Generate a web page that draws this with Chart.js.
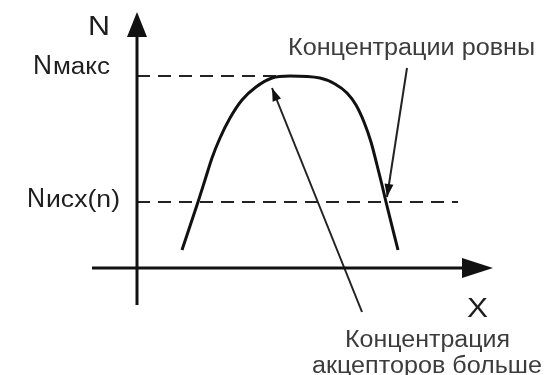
<!DOCTYPE html>
<html lang="ru">
<head>
<meta charset="utf-8">
<script src="https://cdn.jsdelivr.net/npm/chart.js@4.4.1/dist/chart.umd.min.js"></script>
<style>
  html, body { margin: 0; padding: 0; background: #fff; }
  #wrap { width: 558px; height: 375px; }
</style>
</head>
<body>
<div id="wrap"><canvas id="profil" width="558" height="375"></canvas></div>
<script>
// Профиль концентрации акцепторов N(X)
const curveX = [45, 61, 68, 75, 83, 93, 105, 119, 135, 153, 183, 198, 210, 219, 227, 234, 240, 245, 249, 261];
const curveN = [18, 66, 88, 110, 130, 150, 168, 181, 190, 192, 190, 184, 175, 163, 146, 126, 103, 83, 66, 18];

// уровни на оси N
const levelNames = ['макс', 'исх(n)'];
const levelValues = [192, 66];
const levelEnds = [150, 321];

// выноски: [откуда, куда]
const calloutText = ['Концентрации ровны', 'Концентрация\nакцепторов больше'];
const calloutFrom = [[270, 200], [225, -44]];
const calloutTo = [[250, 71], [135, 180]];

const pts = (xs, ys) => xs.map((x, i) => ({ x: x, y: ys[i] }));

const lineDs = (data, extra) => Object.assign({
  data: data,
  showLine: true,
  borderColor: '#111',
  borderWidth: 2,
  pointRadius: 0,
  fill: false
}, extra);

const datasets = [
  lineDs(pts(curveX, curveN), { borderWidth: 3, tension: 0.4, cubicInterpolationMode: 'monotone' }),
  // оси
  lineDs([{ x: 0, y: -37 }, { x: 0, y: 235 }], { borderWidth: 3 }),
  lineDs([{ x: -45, y: 0 }, { x: 330, y: 0 }], { borderWidth: 3 })
];
levelValues.forEach((v, i) => {
  datasets.push(lineDs([{ x: 0, y: v }, { x: levelEnds[i], y: v }], { borderDash: [13, 8], borderColor: '#222' }));
});
calloutFrom.forEach((p, i) => {
  datasets.push(lineDs([{ x: p[0], y: p[1] }, { x: calloutTo[i][0], y: calloutTo[i][1] }], { borderColor: '#222' }));
});

// текст, вписанный по ширине между x1 и x2
function fitText(ctx, sx, sy, text, x1, x2, base, size, color) {
  const px1 = sx.getPixelForValue(x1), px2 = sx.getPixelForValue(x2);
  const py = sy.getPixelForValue(base);
  ctx.save();
  ctx.font = size + 'px "Liberation Sans", Arial, sans-serif';
  ctx.fillStyle = color;
  ctx.textBaseline = 'alphabetic';
  const w = ctx.measureText(text).width;
  ctx.translate(px1, py);
  ctx.scale((px2 - px1) / w, 1);
  ctx.fillText(text, 0, 0);
  ctx.restore();
}

function head(ctx, sx, sy, from, to, len, half) {
  const x0 = sx.getPixelForValue(from[0]), y0 = sy.getPixelForValue(from[1]);
  const x1 = sx.getPixelForValue(to[0]), y1 = sy.getPixelForValue(to[1]);
  const a = Math.atan2(y1 - y0, x1 - x0);
  ctx.save();
  ctx.fillStyle = '#111';
  ctx.translate(x1, y1);
  ctx.rotate(a);
  ctx.beginPath();
  ctx.moveTo(0, 0);
  ctx.lineTo(-len, -half);
  ctx.lineTo(-len, half);
  ctx.closePath();
  ctx.fill();
  ctx.restore();
}

const decor = {
  id: 'decor',
  afterDatasetsDraw(chart) {
    const ctx = chart.ctx, sx = chart.scales.x, sy = chart.scales.y;
    // стрелки осей
    head(ctx, sx, sy, [0, 0], [0, 256], 25, 10);
    head(ctx, sx, sy, [0, 0], [356, 0], 31, 10);
    // стрелки выносок
    calloutFrom.forEach((p, i) => head(ctx, sx, sy, p, calloutTo[i], 13, 4.5));

    const dark = '#1e1e1e', grey = '#3c3c3c';
    fitText(ctx, sx, sy, 'N', -49, -27, 233, 28, dark);
    fitText(ctx, sx, sy, 'X', 330, 351, -49, 28, dark);
    fitText(ctx, sx, sy, 'N', -104, -85, levelValues[0] + 2, 28, dark);
    fitText(ctx, sx, sy, levelNames[0], -84, -27, levelValues[0] + 2, 23, dark);
    fitText(ctx, sx, sy, 'N', -110, -92, levelValues[1] - 5, 28, dark);
    fitText(ctx, sx, sy, levelNames[1], -91, -17, levelValues[1] - 5, 23, dark);

    fitText(ctx, sx, sy, calloutText[0], 151, 398, 213, 23, grey);
    const lines = calloutText[1].split('\n');
    fitText(ctx, sx, sy, lines[0], 208, 373, -79, 23, grey);
    fitText(ctx, sx, sy, lines[1], 175, 405, -105, 23, grey);
  }
};

new Chart(document.getElementById('profil'), {
  type: 'scatter',
  data: { datasets: datasets },
  options: {
    responsive: false,
    animation: false,
    events: [],
    layout: { padding: 0 },
    plugins: { legend: { display: false }, tooltip: { enabled: false } },
    scales: {
      x: { type: 'linear', min: -137, max: 421, display: false },
      y: { type: 'linear', min: -107, max: 268, display: false }
    }
  },
  plugins: [decor]
});
</script>
</body>
</html>
